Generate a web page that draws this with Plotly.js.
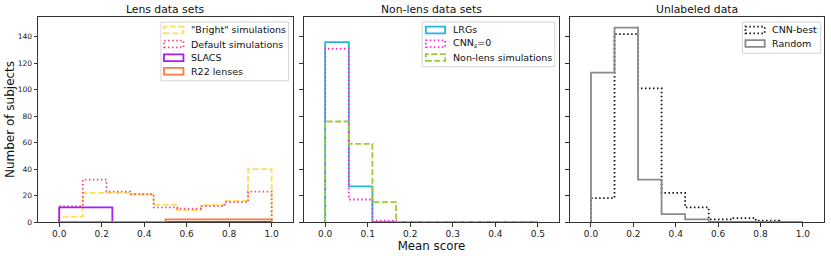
<!DOCTYPE html>
<html><head><meta charset="utf-8">
<script src="https://cdn.plot.ly/plotly-3.0.1.min.js"></script>
<style>html,body{margin:0;padding:0;background:#fff;}#chart{width:831px;height:256px;}</style>
</head><body><div id="chart"></div>
<script>
// ---- data ----
const lensEdges = [0, 0.1111, 0.2222, 0.3333, 0.4444, 0.5556, 0.6667, 0.7778, 0.8889, 1.0];
const brightSim = [4, 22, 22, 21, 13, 9, 13, 16, 40];
const defaultSim = [12, 32, 23, 21, 11, 10, 12, 15, 23];
const slacsEdges = [0, 0.25, 0.5, 0.75, 1.0];
const slacs = [11, 0, 0, 0];
const r22Edges = [0, 0.5, 1.0];
const r22 = [0, 2];
const nonLensEdges = [0, 0.0556, 0.1111, 0.1667, 0.2222, 0.2778, 0.3333, 0.3889, 0.4444, 0.5];
const lrgs = [136, 27, 0, 0, 0, 0, 0, 0, 0];
const cnnZero = [131, 17, 1, 0, 0, 0, 0, 0, 0];
const nonLensSim = [76, 59, 15, 0, 0, 0, 0, 0, 0];
const unlabeledEdges = [0, 0.1111, 0.2222, 0.3333, 0.4444, 0.5556, 0.6667, 0.7778, 0.8889, 1.0];
const cnnBest = [18, 142, 101, 22, 11, 2, 3, 1, 0];
const randomSel = [113, 147, 32, 6, 2, 0, 0, 0, 0];
const panelTitles = ['Lens data sets', 'Non-lens data sets', 'Unlabeled data'];
const seriesNames1 = ['"Bright" simulations', 'Default simulations', 'SLACS', 'R22 lenses'];
const seriesNames2 = ['LRGs', 'CNN<sub><i>s</i></sub>=0', 'Non-lens simulations'];
const seriesNames3 = ['CNN-best', 'Random'];
const xTicks13 = [0, 0.2, 0.4, 0.6, 0.8, 1.0];
const xTicks2 = [0, 0.1, 0.2, 0.3, 0.4, 0.5];
const yTicks = [0, 20, 40, 60, 80, 100, 120, 140];
const xTitle = 'Mean score';
const yTitle = 'Number of subjects';

// ---- styles ----
const FONT = 'DejaVu Sans, Liberation Sans, sans-serif';
const DASH = '6px,2.5px', DOT = '1.5px,2.5px';
const st = {
  bright: {color: '#ffdf5a', dash: DASH},
  def: {color: '#ec4a80', dash: DOT},
  slacs: {color: '#a51cff', dash: 'solid'},
  r22: {color: '#ff7a3c', dash: 'solid'},
  lrgs: {color: '#22b5e3', dash: 'solid'},
  cnn0: {color: '#ff2bd8', dash: DOT},
  nls: {color: '#9acd32', dash: DASH},
  best: {color: '#111111', dash: DOT},
  rand: {color: '#8a8a8a', dash: 'solid'}
};
const LW = 1.8;

function stepXY(edges, counts) {
  const x = [edges[0]], y = [0];
  for (let i = 0; i < counts.length; i++) { x.push(edges[i]); y.push(counts[i]); }
  x.push(edges[counts.length]); y.push(counts[counts.length - 1]);
  x.push(edges[counts.length]); y.push(0);
  return {x, y};
}
function tr(edges, counts, s, name, xa, ya) {
  const d = stepXY(edges, counts);
  return {type: 'scatter', mode: 'lines', x: d.x, y: d.y, name: name, xaxis: xa, yaxis: ya,
    line: {shape: 'hv', color: s.color, dash: s.dash, width: LW}, showlegend: false, hoverinfo: 'skip'};
}

const traces = [
  tr(lensEdges, brightSim, st.bright, seriesNames1[0], 'x', 'y'),
  tr(lensEdges, defaultSim, st.def, seriesNames1[1], 'x', 'y'),
  tr(slacsEdges, slacs, st.slacs, seriesNames1[2], 'x', 'y'),
  tr(r22Edges, r22, st.r22, seriesNames1[3], 'x', 'y'),
  tr(nonLensEdges, lrgs, st.lrgs, seriesNames2[0], 'x2', 'y2'),
  tr(nonLensEdges, cnnZero, st.cnn0, seriesNames2[1], 'x2', 'y2'),
  tr(nonLensEdges, nonLensSim, st.nls, seriesNames2[2], 'x2', 'y2'),
  tr(unlabeledEdges, cnnBest, st.best, seriesNames3[0], 'x3', 'y3'),
  tr(unlabeledEdges, randomSel, st.rand, seriesNames3[1], 'x3', 'y3')
];

// ---- layout geometry (pixels in the 831x256 page) ----
const PL = 38, PR = 824.3, PT = 17, PB = 222;
const PW = PR - PL, PH = PB - PT;
const X = px => (px - PL) / PW;
const Y = py => (PB - py) / PH;

const axisCommon = {
  showline: true, mirror: true, linecolor: '#333', linewidth: 1,
  ticks: 'outside', ticklen: 3.5, tickwidth: 1, tickcolor: '#333',
  showgrid: false, zeroline: false, automargin: false,
};
const yRange = [0, 155];
function xax(dom, range, tv, anchor) {
  return Object.assign({}, axisCommon, {domain: dom, range: range, tickvals: tv, tickformat: '.1f',
    anchor: anchor, tickfont: {family: FONT, size: 9, color: '#222'}});
}
function yax(anchor, labels) {
  return Object.assign({}, axisCommon, {anchor: anchor, range: yRange, tickvals: yTicks,
    showticklabels: labels, tickfont: {family: FONT, size: 7.5, color: '#222'}});
}

const layout = {
  width: 831, height: 256,
  margin: {l: PL, r: 831 - PR, t: PT, b: 256 - PB},
  paper_bgcolor: '#fff', plot_bgcolor: '#fff',
  showlegend: false,
  font: {family: FONT, color: '#111'},
  xaxis: xax([X(38), X(293)], [-0.1, 1.1], xTicks13, 'y'),
  xaxis2: Object.assign(xax([X(304), X(559.3)], [-0.05, 0.55], xTicks2, 'y2'),
    {title: {text: xTitle, font: {family: FONT, size: 11.8, color: '#111'}, standoff: 3}}),
  xaxis3: xax([X(570), X(824.3)], [-0.1, 1.1], xTicks13, 'y3'),
  yaxis: Object.assign(yax('x', true), {title: {text: yTitle, font: {family: FONT, size: 12, color: '#111'}, standoff: 0}}),
  yaxis2: yax('x2', false),
  yaxis3: yax('x3', false),
  shapes: [], annotations: []
};

// panel titles
const titleCenters = [(38 + 293) / 2, (304 + 559.3) / 2, (570 + 824.3) / 2];
panelTitles.forEach((t, i) => {
  layout.annotations.push({text: t, xref: 'paper', yref: 'paper', x: X(titleCenters[i]), y: Y(9.5),
    xanchor: 'center', yanchor: 'middle', showarrow: false, font: {family: FONT, size: 10.8, color: '#111'}});
});

// legends drawn as matplotlib-like boxes
function legend(box, rows, symX0, symX1, textX, names, styles) {
  layout.shapes.push({type: 'rect', xref: 'paper', yref: 'paper', x0: X(box[0]), x1: X(box[2]), y0: Y(box[1]), y1: Y(box[3]),
    line: {color: '#d6d6d6', width: 1}, fillcolor: 'rgba(255,255,255,0.85)', layer: 'above'});
  names.forEach((n, i) => {
    const s = styles[i];
    layout.shapes.push({type: 'rect', xref: 'paper', yref: 'paper', x0: X(symX0), x1: X(symX1),
      y0: Y(rows[i] + 3.4), y1: Y(rows[i] - 3.4), line: {color: s.color, width: LW, dash: s.dash}, layer: 'above'});
    layout.annotations.push({text: n, xref: 'paper', yref: 'paper', x: X(textX), y: Y(rows[i]),
      xanchor: 'left', yanchor: 'middle', showarrow: false, font: {family: FONT, size: 9.5, color: '#111'}});
  });
}
legend([161, 22, 288.7, 80.7], [30, 44, 57.7, 71.3], 164, 183.5, 189.5, seriesNames1, [st.bright, st.def, st.slacs, st.r22]);
legend([422.3, 22, 555, 66.7], [30, 43.7, 57.5], 426, 445.3, 451, seriesNames2, [st.lrgs, st.cnn0, st.nls]);
legend([742.7, 22, 821, 53.3], [30, 43.5], 745.7, 765, 770.5, seriesNames3, [st.best, st.rand]);

Plotly.newPlot('chart', traces, layout, {staticPlot: true, displayModeBar: false});
</script>
</body></html>
